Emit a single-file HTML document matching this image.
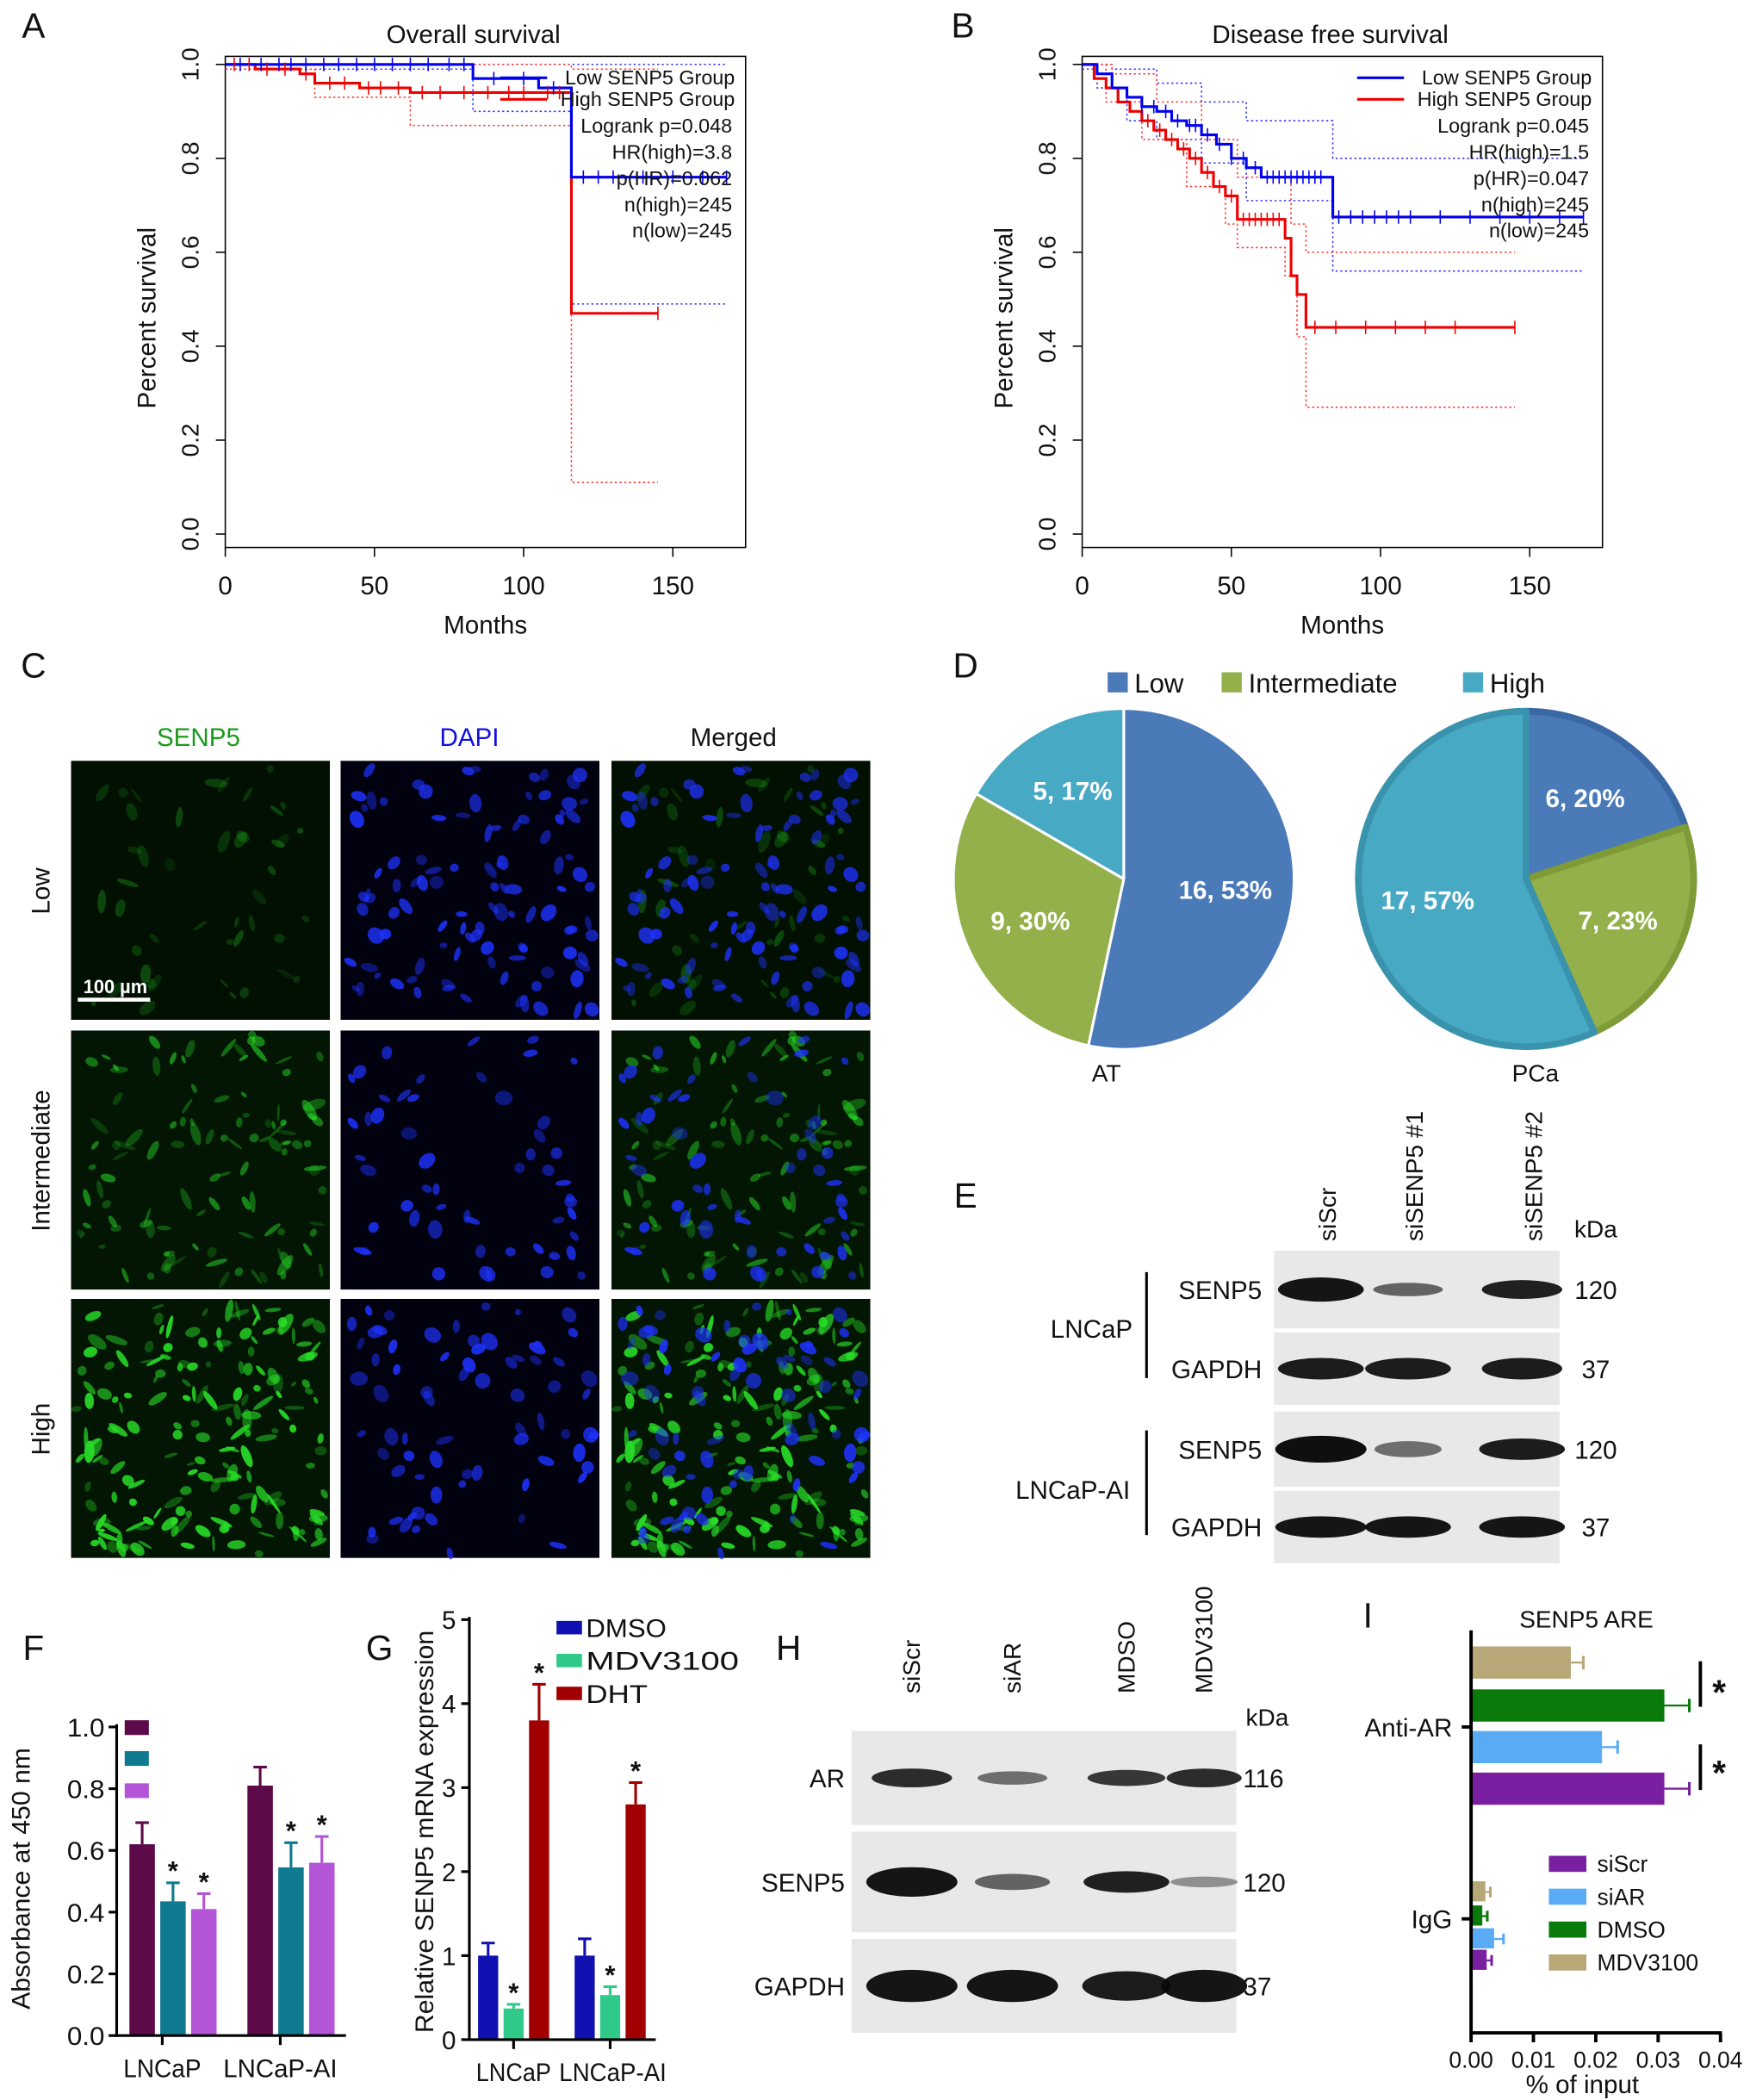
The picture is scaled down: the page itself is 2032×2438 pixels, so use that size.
<!DOCTYPE html>
<html><head><meta charset="utf-8"><style>
html,body{margin:0;padding:0;background:#fff}
svg{display:block;font-family:"Liberation Sans",Arial,sans-serif}
</style></head><body>
<svg id="fig" width="2032" height="2438" viewBox="0 0 1305 1565" preserveAspectRatio="none" xmlns="http://www.w3.org/2000/svg">
<defs>
<clipPath id="cA"><rect x="168" y="42" width="388" height="366"/></clipPath>
<clipPath id="cB"><rect x="807" y="42" width="388" height="366"/></clipPath>
</defs>
<g id="root"></g>
</svg>
<script>
// ---- Panel A data ----
const aLowT=[83,105,116], aLowS=[0.97,0.95,0.76];
const aHighT=[10,25,30,45,62,116], aHighS=[0.99,0.98,0.96,0.95,0.94,0.47];
const aLowUpT=[116], aLowUpS=[1.0];
const aLowLoT=[83,116], aLowLoS=[0.90,0.49];
const aHighUpT=[116], aHighUpS=[0.99];
const aHighLoT=[30,62,116], aHighLoS=[0.93,0.87,0.11];
const aLowCens=[5,12,18,22,27,33,38,44,50,56,62,68,75,80,90,100,110,120,125,130,140,150,160,168];
const aHighCens=[3,8,14,20,27,35,40,48,52,58,66,72,80,88,95,100,108,112,145];
// ---- Panel B data ----
const bLowT=[5,10,15,20,25,30,35,40,45,50,55,60,84], bLowS=[0.98,0.95,0.93,0.91,0.9,0.88,0.87,0.85,0.83,0.8,0.78,0.76,0.675];
const bHighT=[4,8,12,16,20,24,28,32,36,40,44,48,52,68,70,72,75], bHighS=[0.97,0.95,0.92,0.9,0.88,0.86,0.84,0.82,0.8,0.77,0.74,0.72,0.67,0.63,0.55,0.51,0.44];
const bLowUpT=[10,25,40,55,84], bLowUpS=[0.99,0.96,0.92,0.88,0.80];
const bLowLoT=[5,15,25,40,55,84], bLowLoS=[0.95,0.88,0.84,0.79,0.71,0.56];
const bHighUpT=[10,25,40,52,70,75], bHighUpS=[0.98,0.92,0.84,0.76,0.66,0.60];
const bHighLoT=[8,20,35,48,52,68,72,75], bHighLoS=[0.92,0.84,0.74,0.66,0.61,0.55,0.42,0.27];
const bLowCens=[20,24,28,32,36,38,42,46,50,54,58,62,64,66,68,70,72,74,76,78,80,86,90,94,98,102,106,110,120,130,140,150,160,168];
const bHighCens=[22,26,30,34,38,42,46,50,54,56,58,60,62,64,66,78,85,95,105,115,125,145];
// ---- Panel D data ----
const pieCats=["Low","Intermediate","High"];
const atVals=[16,9,5], pcaVals=[6,7,17];
// ---- Panel F data ----
const fGroups=["LNCaP","LNCaP-AI"];
const fVals=[[0.62,0.435,0.41],[0.81,0.545,0.56]];
const fErr=[[0.07,0.06,0.05],[0.06,0.08,0.085]];
const fTicks=[0,0.2,0.4,0.6,0.8,1.0];
// ---- Panel G data ----
const gSeries=["DMSO","MDV3100","DHT"];
const gVals=[[1.0,0.37,3.8],[1.0,0.53,2.8]];
const gErr=[[0.15,0.05,0.43],[0.2,0.1,0.26]];
const gTicks=[0,1,2,3,4,5];
// ---- Panel I data ----
const iSeries=["siScr","siAR","DMSO","MDV3100"];
const iAnti=[0.031,0.021,0.031,0.016], iAntiErr=[0.004,0.0025,0.004,0.002];
const iIgg=[0.0025,0.0037,0.0018,0.0023], iIggErr=[0.0008,0.0015,0.0008,0.0008];
const iTicks=[0,0.01,0.02,0.03,0.04];

const NS="http://www.w3.org/2000/svg";
const root=document.getElementById('root');
function el(tag,attrs,parent,text){const e=document.createElementNS(NS,tag);for(const k in attrs)e.setAttribute(k,attrs[k]);if(text!==undefined)e.textContent=text;(parent||root).appendChild(e);return e;}
function txt(x,y,s,size,name,opts){opts=opts||{};const a={x:x,y:y,'font-size':size,fill:opts.fill||'#111','text-anchor':opts.anchor||'middle',transform:opts.rot?`rotate(${opts.rot} ${x} ${y})`:'', 'font-weight':opts.bold?'bold':'normal'};
if(opts.tl){a.textLength=opts.tl;a.lengthAdjust='spacingAndGlyphs';}
const t=el('text',a,opts.parent,s);


return t;}
function line(x1,y1,x2,y2,w,c,parent){return el('line',{x1,y1,x2,y2,stroke:c||'#000','stroke-width':w||1},parent);}

[["A",25,28],["B",718,28],["C",25,505],["D",720,505],["E",720,900],["F",25,1237],["G",283,1237],["H",588,1237],["I",1020,1213]].forEach(p=>{txt(p[1],p[2],p[0],26,'panel-label-'+p[0].toLowerCase());});

function survPanel(x0,title,id,d){
  const g=el('g',{});
  const sx=t=>x0+t*2.225, sy=s=>398-s*350;
  el('rect',{x:x0,y:42,width:388,height:366,fill:'none',stroke:'#000','stroke-width':1},g);
  txt(x0+185,32,title,19,'chart-title',{parent:g});
  [0,50,100,150].forEach(v=>{line(sx(v),408,sx(v),415,1,'#000',g);txt(sx(v),443,String(v),19,'x-tick-label',{parent:g});});
  [0,0.2,0.4,0.6,0.8,1.0].forEach(v=>{line(x0-7,sy(v),x0,sy(v),1,'#000',g);txt(x0-20,sy(v),v.toFixed(1),18,'y-tick-label',{parent:g,rot:-90});});
  txt(x0+194,472,'Months',19,'x-axis-title',{parent:g});
  txt(x0-52,237,'Percent survival',19,'y-axis-title',{parent:g,rot:-90});
  const cg=el('g',{'clip-path':`url(#c${id})`},g);
  function step(T,S,end,start){let p=`M${sx(0)},${sy(start)}`;for(let i=0;i<T.length;i++){p+=`H${sx(T[i])}V${sy(S[i])}`;}return p+`H${sx(end)}`;}
  function val(T,S,t){let s=1;for(let i=0;i<T.length;i++)if(t>=T[i])s=S[i];return s;}
  const curves=[[d.lowUpT,d.lowUpS,168,1,'#33f',true,'low-ci-upper'],[d.lowLoT,d.lowLoS,168,0.99,'#33f',true,'low-ci-lower'],[d.hiUpT,d.hiUpS,145,1,'#f33',true,'high-ci-upper'],[d.hiLoT,d.hiLoS,145,d.hiLoStart,'#f33',true,'high-ci-lower'],[d.hiT,d.hiS,145,1,'#e00',false,'high-curve'],[d.lowT,d.lowS,168,1,'#00e',false,'low-curve']];
  curves.forEach(c=>{const p=el('path',{d:step(c[0],c[1],c[2],c[3]),fill:'none',stroke:c[4],'stroke-width':c[5]?1:2,'stroke-dasharray':c[5]?'1.5,2':''},cg);});
  d.hiC.forEach(t=>{line(sx(t),sy(val(d.hiT,d.hiS,t))-5,sx(t),sy(val(d.hiT,d.hiS,t))+5,1,'#e00',cg);});
  d.lowC.forEach(t=>{line(sx(t),sy(val(d.lowT,d.lowS,t))-5,sx(t),sy(val(d.lowT,d.lowS,t))+5,1,'#00e',cg);});
  const lx=x0+205;
  line(lx,58,lx+35,58,2,'#00e',g);line(lx,74,lx+35,74,2,'#e00',g);
  [['Low SENP5 Group',63],['High SENP5 Group',79]].forEach(l=>txt(x0+380,l[1],l[0],15,'legend-entry',{parent:g,anchor:'end'}));
  d.stats.forEach((s,i)=>txt(x0+378,99+i*19.5,s,15,'stat-text',{parent:g,anchor:'end'}));
}
survPanel(168,'Overall survival','A',{lowT:aLowT,lowS:aLowS,hiT:aHighT,hiS:aHighS,lowUpT:aLowUpT,lowUpS:aLowUpS,lowLoT:aLowLoT,lowLoS:aLowLoS,hiUpT:aHighUpT,hiUpS:aHighUpS,hiLoT:aHighLoT,hiLoS:aHighLoS,hiLoStart:0.99,lowC:aLowCens,hiC:aHighCens,stats:['Logrank p=0.048','HR(high)=3.8','p(HR)=0.062','n(high)=245','n(low)=245']});
survPanel(807,'Disease free survival','B',{lowT:bLowT,lowS:bLowS,hiT:bHighT,hiS:bHighS,lowUpT:bLowUpT,lowUpS:bLowUpS,lowLoT:bLowLoT,lowLoS:bLowLoS,hiUpT:bHighUpT,hiUpS:bHighUpS,hiLoT:bHighLoT,hiLoS:bHighLoS,hiLoStart:1,lowC:bLowCens,hiC:bHighCens,stats:['Logrank p=0.045','HR(high)=1.5','p(HR)=0.047','n(high)=245','n(low)=245']});

// ---- Panel C micrographs ----
let seed=12345;function rnd(){seed=(seed*1103515245+12345)%2147483648;return seed/2147483648;}
txt(148,556,'SENP5',19,'column-header-senp5',{fill:'#1a9a1a'});
txt(350,556,'DAPI',19,'column-header-dapi',{fill:'#1010e0'});
txt(547,556,'Merged',19,'column-header-merged');
const cols=[53,254,456], rows=[567,768,968], rowNames=['Low','Intermediate','High'];
const greenLvl=[0.3,0.6,0.95], greenN=[50,130,200], blueN=[110,60,80];
rows.forEach((ry,ri)=>{
  txt(37,ry+97,rowNames[ri],19,'row-label-'+rowNames[ri].toLowerCase(),{rot:-90});
  const gBlobs=[],bBlobs=[];
  for(let i=0;i<greenN[ri];i++)gBlobs.push([rnd()*193,rnd()*193,2+rnd()*7,1+rnd()*3,rnd()*180,greenLvl[ri]*(0.3+rnd()*0.7)]);
  for(let i=0;i<blueN[ri];i++)bBlobs.push([rnd()*193,rnd()*193,2+rnd()*5,2+rnd()*4,rnd()*180,0.4+rnd()*0.5]);
  cols.forEach((cx,ci)=>{
    const g=el('g',{});
    el('rect',{x:cx,y:ry,width:193,height:193,fill:ci==1?'#010110':(ri==0?'#021002':'#031603')},g);
    if(ci!=1)gBlobs.forEach(b=>{if(b[0]+b[2]<193&&b[1]+b[2]<193&&b[0]>b[2]&&b[1]>b[2])el('ellipse',{cx:cx+b[0],cy:ry+b[1],rx:b[2],ry:b[3],transform:`rotate(${b[4]} ${cx+b[0]} ${ry+b[1]})`,fill:`rgba(40,220,40,${b[5]})`},g);});
    if(ci!=0)bBlobs.forEach(b=>{if(b[0]+b[2]<193&&b[1]+b[2]<193&&b[0]>b[2]&&b[1]>b[2])el('ellipse',{cx:cx+b[0],cy:ry+b[1],rx:b[2],ry:b[3],transform:`rotate(${b[4]} ${cx+b[0]} ${ry+b[1]})`,fill:`rgba(30,50,255,${b[5]})`},g);});
  });
});
line(58,745,112,745,3,'#fff');
txt(86,740,'100 µm',14,'scale-bar-label',{fill:'#fff',bold:true});

// ---- Panel D pies ----
const pieCol=['#4a7ab8','#93b04a','#48a9c4'], pieEdge=['#3a68a5','#7e9b38','#3a93ad'];
[[826,'Low'],[911,'Intermediate'],[1091,'High']].forEach((l,i)=>{const r=el('rect',{x:l[0],y:501,width:15,height:15,fill:pieCol[i]});txt(l[0]+20,516,l[1],20,'legend-entry',{anchor:'start'});});
function pie(cx,cy,r,vals,name,edge){
  const tot=vals.reduce((a,b)=>a+b,0);let a0=0;
  vals.forEach((v,i)=>{const a1=a0+v/tot*2*Math.PI;
    const x0=cx+r*Math.sin(a0),y0=cy-r*Math.cos(a0),x1=cx+r*Math.sin(a1),y1=cy-r*Math.cos(a1);
    const p=el('path',{d:`M${cx},${cy}L${x0},${y0}A${r},${r} 0 ${a1-a0>Math.PI?1:0} 1 ${x1},${y1}Z`,fill:pieCol[i],stroke:edge?pieEdge[i]:'#fff','stroke-width':edge?5:2,'stroke-linejoin':'round'});
    
    const am=(a0+a1)/2,lr=r*0.6;
    txt(cx+lr*Math.sin(am),cy-lr*Math.cos(am)+7,`${v}, ${Math.round(v/tot*100)}%`,19,name+'-label',{fill:'#fff',bold:true});
    a0=a1;});
}
pie(838,655,127,atVals,'pie-at',false);
pie(1138,655,125,pcaVals,'pie-pca',true);
txt(825,806,'AT',18,'pie-at-title');txt(1145,806,'PCa',18,'pie-pca-title');

// ---- blots ----
function blot(x,y,w,h,bands,name){
  const g=el('g',{});
  el('rect',{x,y,width:w,height:h,fill:'#e8e8e8'},g);
  bands.forEach(b=>el('ellipse',{cx:b[0],cy:y+h/2,rx:b[1],ry:b[2],fill:`rgba(10,10,10,${b[3]})`},g));
}
[['siScr',990],['siSENP5 #1',1055],['siSENP5 #2',1144]].forEach(l=>txt(l[1]+6,925,l[0],18,'lane-label',{anchor:'start',rot:-90}));
txt(1190,922,'kDa',18,'kda-header');
const eRows=[[932,58,'SENP5','120',[[985,32,9,0.95],[1050,26,5,0.6],[1135,30,7,0.9]]],[993,54,'GAPDH','37',[[985,32,8,0.92],[1050,32,8,0.92],[1135,30,8,0.92]]],[1052,56,'SENP5','120',[[985,34,10,0.98],[1050,25,6,0.55],[1135,32,8,0.92]]],[1111,54,'GAPDH','37',[[985,34,8,0.95],[1050,32,8,0.95],[1135,32,8,0.95]]]];
eRows.forEach((r,i)=>{blot(950,r[0],213,r[1],r[4],'blot-e-'+r[2].toLowerCase()+'-'+i);txt(941,r[0]+r[1]/2+7,r[2],19,'blot-row-label',{anchor:'end'});txt(1190,r[0]+r[1]/2+7,r[3],19,'kda-value');});
line(855,948,855,1027,2);line(855,1066,855,1144,2);
txt(814,997,'LNCaP',19,'cell-line-label');txt(800,1117,'LNCaP-AI',19,'cell-line-label');
[['siScr',680],['siAR',755],['MDSO',840],['MDV3100',898]].forEach(l=>txt(l[1]+6,1262,l[0],18,'lane-label',{anchor:'start',rot:-90}));
txt(945,1286,'kDa',18,'kda-header');
const hRows=[[1290,70,'AR','116',[[680,30,7,0.85],[755,26,5,0.55],[840,29,6,0.8],[898,28,7,0.85]]],[1365,75,'SENP5','120',[[680,34,11,0.95],[755,28,6,0.6],[840,32,8,0.9],[898,25,4,0.4]]],[1445,70,'GAPDH','37',[[680,34,12,0.95],[755,34,12,0.95],[840,33,11,0.92],[898,32,12,0.95]]]];
hRows.forEach((r,i)=>{blot(635,r[0],287,r[1],r[4],'blot-h-'+r[2].toLowerCase());txt(630,r[0]+r[1]/2+7,r[2],19,'blot-row-label',{anchor:'end'});txt(927,r[0]+r[1]/2+7,r[3],19,'kda-value',{anchor:'start'});});

// ---- Panel F ----
(function(){
  const g=el('g',{});
  const y=v=>1517-v*230, cols=['#5c0a4a','#0f7a90','#b355d6'], cx=[[106,129,152],[194,217,240]];
  fVals.forEach((grp,gi)=>grp.forEach((v,si)=>{const x=cx[gi][si];
    line(x,y(v),x,y(v+fErr[gi][si]),2,cols[si],g);line(x-5,y(v+fErr[gi][si]),x+5,y(v+fErr[gi][si]),2,cols[si],g);
    const r=el('rect',{x:x-9.5,y:y(v),width:19,height:y(0)-y(v),fill:cols[si]},g);
    if(si>0)txt(x,y(v+fErr[gi][si])-2,'*',20,'significance-star',{parent:g,bold:true});}));
  line(87,1285,87,1518,2,'#000',g);line(86,1517,258,1517,2,'#000',g);
  fTicks.forEach(v=>{line(81,y(v),87,y(v),2,'#000',g);txt(78,y(v)+7,v.toFixed(1),19,'y-tick-label',{parent:g,anchor:'end',tl:28});});
  [['LNCaP',121,58],['LNCaP-AI',209,85]].forEach((l,i)=>{line(l[1],1517,l[1],1524,2,'#000',g);txt(l[1],1548,l[0],19,'x-tick-label',{parent:g,tl:l[2]});});
  [1288,1311,1335].forEach((yy,i)=>{const r=el('rect',{x:93,y:yy-6,width:18,height:11,fill:cols[i]},g);});
  txt(22,1400,'Absorbance at 450 nm',19,'y-axis-title',{parent:g,rot:-90,tl:195});
})();

// ---- Panel G ----
(function(){
  const g=el('g',{});
  const y=v=>1520-v*62.6, cols=['#1010b0','#2fc98a','#a00000'], cx=[[364,383,402],[436,455,474]];
  gVals.forEach((grp,gi)=>grp.forEach((v,si)=>{const x=cx[gi][si];const e=gErr[gi][si];
    line(x,y(v),x,y(v+e),2,cols[si],g);line(x-5,y(v+e),x+5,y(v+e),2,cols[si],g);
    const r=el('rect',{x:x-7.5,y:y(v),width:15,height:y(0)-y(v),fill:cols[si]},g);
    if(si>0)txt(x,y(v+e)-2,'*',20,'significance-star',{parent:g,bold:true});}));
  line(350,1205,350,1521,2,'#000',g);line(349,1520,489,1520,2,'#000',g);
  gTicks.forEach(v=>{line(344,y(v),350,y(v),2,'#000',g);txt(340,y(v)+7,String(v),19,'y-tick-label',{parent:g,anchor:'end'});});
  [['LNCaP',383,56],['LNCaP-AI',455,80]].forEach((l,i)=>{line(l[1],1520,l[1],1527,2,'#000',g);txt(l[1]+(i?2:0),1551,l[0],19,'x-tick-label',{parent:g,tl:l[2]});});
  gSeries.forEach((s,i)=>{const yy=1213+i*24.5;const r=el('rect',{x:415,y:yy-5,width:19,height:10,fill:cols[i]},g);txt(437,yy+7,s,19,'legend-entry',{parent:g,anchor:'start',tl:[60,114,46][i]});});
  txt(323,1365,'Relative SENP5 mRNA expression',19,'y-axis-title',{parent:g,rot:-90,tl:300});
})();

// ---- Panel I ----
(function(){
  const g=el('g',{});
  const x=v=>1097+v*4650, cols=['#7a1fa2','#5aabf5','#0a7a0a','#b8a878'];
  const antiY=[1321,1290,1259,1227], iggY=[1453,1437,1420,1402];
  iAnti.forEach((v,i)=>{const yy=antiY[i];const e=iAntiErr[i];
    line(x(v),yy+12,x(v+e),yy+12,1.5,cols[i],g);line(x(v+e),yy+7,x(v+e),yy+17,2,cols[i],g);
    const r=el('rect',{x:1097,y:yy,width:x(v)-1097,height:24,fill:cols[i]},g);});
  iIgg.forEach((v,i)=>{const yy=iggY[i];const e=iIggErr[i];
    line(x(v),yy+8,x(v+e),yy+8,1.5,cols[i],g);line(x(v+e),yy+4,x(v+e),yy+12,2,cols[i],g);
    const r=el('rect',{x:1097,y:yy,width:x(v)-1097,height:15,fill:cols[i]},g);});
  line(1097,1215,1097,1516,2.5,'#000',g);line(1096,1515,1284,1515,2.5,'#000',g);
  iTicks.forEach(v=>{line(x(v),1515,x(v),1522,2.5,'#000',g);txt(x(v),1541,v.toFixed(2),17,'x-tick-label',{parent:g});});
  line(1090,1287,1097,1287,2.5,'#000',g);line(1090,1430,1097,1430,2.5,'#000',g);
  txt(1083,1294,'Anti-AR',19,'y-category-label',{parent:g,anchor:'end'});txt(1083,1437,'IgG',19,'y-category-label',{parent:g,anchor:'end'});
  txt(1183,1213,'SENP5 ARE',18,'chart-title',{parent:g});
  txt(1180,1560,'% of input',19,'x-axis-title',{parent:g});
  line(1268,1238,1268,1272,2.5,'#000',g);line(1268,1300,1268,1334,2.5,'#000',g);
  txt(1282,1270,'*',26,'significance-star',{parent:g,bold:true});txt(1282,1330,'*',26,'significance-star',{parent:g,bold:true});
  iSeries.forEach((s,i)=>{const yy=1389+i*24.5;const r=el('rect',{x:1155,y:yy-6,width:28,height:12,fill:cols[i]},g);txt(1191,yy+6,s,17,'legend-entry',{parent:g,anchor:'start'});});
})();
</script>
</body></html>
